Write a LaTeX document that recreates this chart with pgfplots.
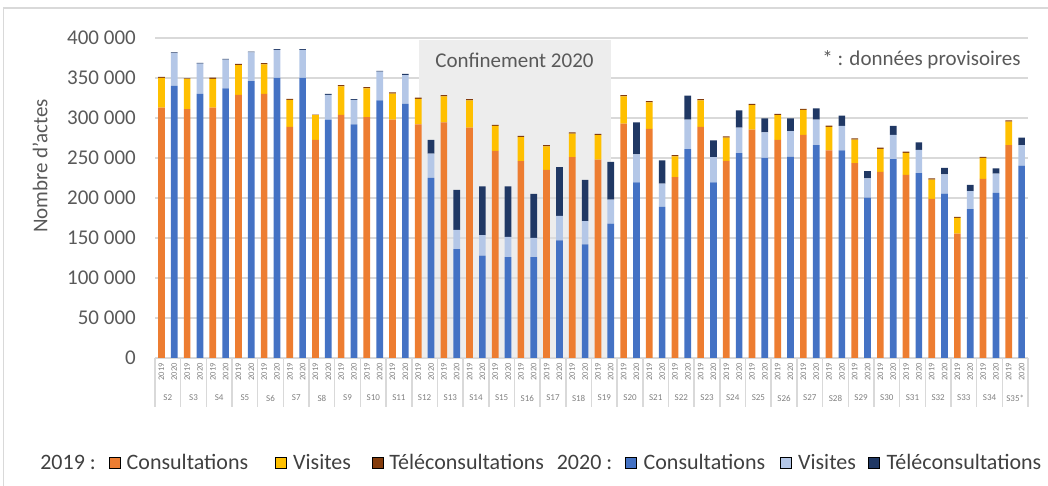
\documentclass[border=0pt]{standalone}
\usepackage{fontspec}
\setmainfont{Carlito}
\usepackage{pgfplots}
\usepackage{pgfplotstable}
\pgfplotsset{compat=1.18}

\definecolor{consA}{HTML}{ED7D31}
\definecolor{visA}{HTML}{FFC000}
\definecolor{teleA}{HTML}{843C0C}
\definecolor{consB}{HTML}{4472C4}
\definecolor{visB}{HTML}{B4C7E7}
\definecolor{teleB}{HTML}{203864}
\definecolor{gridc}{HTML}{D9D9D9}
\definecolor{txt}{HTML}{595959}
\definecolor{legtxt}{HTML}{404040}
\definecolor{smalltxt}{HTML}{808080}
\definecolor{confgray}{HTML}{EDEDED}
\definecolor{confgrayB}{HTML}{E1E1E1}

% actes par semaine : c = consultations, v = visites, t = teleconsultations
\pgfplotstableread{
i  c19    v19   t19  c20    v20   t20
0  313000 37000 1500 340000 41000 1000
1  311000 38000 500  330000 38000 1000
2  313000 36000 1500 337000 36000 1000
3  329000 37000 1500 346000 36000 1000
4  330000 37000 1500 350000 35000 1000
5  289000 33500 1500 350000 35000 1000
6  272500 31000 800  298000 31000 1000
7  304000 35500 1500 292000 30500 1000
8  301000 36000 1500 322000 36000 1000
9  298000 32500 1500 317500 36000 1500
10 292000 32000 1500 225000 30500 17000
11 294500 32500 1500 136000 24000 50000
12 288000 34000 1500 128000 25500 61000
13 259000 31000 1500 126000 25500 63000
14 246000 30000 1500 126000 24000 55000
15 235000 29500 1500 147000 30500 61000
16 251000 29500 1500 142000 29000 51500
17 248000 30500 1500 168000 30000 47000
18 293000 34000 1500 219500 35000 40000
19 286500 33000 1500 189000 29000 29000
20 226000 26000 1500 261000 37000 30000
21 289000 33000 1500 219500 31500 21000
22 246500 29000 1500 256000 32000 21500
23 285500 30500 1500 250000 32000 17500
24 272500 31000 1500 251500 32000 16000
25 279000 31000 1500 266000 32000 14000
26 259500 29500 1500 259500 30500 13000
27 243500 29500 1500 200500 24000 9000
28 232500 29000 1500 248500 30500 11000
29 229000 27500 1500 231000 29000 9500
30 199000 24000 1500 205500 24000 8000
31 155500 19500 1500 186000 22500 8000
32 224000 26000 1500 206500 24000 6500
33 266000 29500 1500 240500 25500 9500
}\actes

\pgfplotsset{
  base/.style={
    scale only axis, width=873pt, height=320pt,
    at={(155pt,128pt)}, anchor=south west,
    xmin=-0.5, xmax=33.5, ymin=0, ymax=400000,
    axis line style={draw=none},
    xtick pos=bottom, ytick pos=left,
    tick align=outside, major tick length=0pt,
  },
  bars/.style={base, ybar stacked, bar width=0.26, ytick=\empty,
    legend columns=-1,
    legend image code/.code={\fill[##1] (0pt,-5.5pt) rectangle (11pt,5.5pt);},
  },
  legbase/.style={draw=none, fill=none, anchor=west, inner sep=0pt,
    font=\fontsize{22}{25}\selectfont, text=legtxt,
    nodes={inner xsep=0pt, inner ysep=1pt},
  },
}

\begin{document}
\begin{tikzpicture}
\useasboundingbox (0,0) rectangle (1048pt,486pt);
\draw[gridc, line width=1.2pt] (3.5pt,-20pt) -- (3.5pt,478pt) -- (1100pt,478pt);

% fond : grille, axes, zone du confinement
\begin{axis}[base,
  ymajorgrids, major grid style={gridc, line width=1.3pt},
  ytick={0,50000,...,400000}, scaled y ticks=false,
  /pgf/number format/fixed, /pgf/number format/1000 sep={\ },
  /pgf/number format/assume math mode=true,
  yticklabel style={font=\fontsize{21}{24}\selectfont, text=txt, inner xsep=0pt, xshift=-19pt},
  ylabel={Nombre d’actes},
  ylabel style={at={(axis description cs:-0.1317,0.6)}, anchor=center,
    font=\fontsize{21}{24}\selectfont, text=txt},
  xtick={-0.25,0.25,...,33.25},
  xticklabels={2019,2020,2019,2020,2019,2020,2019,2020,2019,2020,2019,2020,2019,2020,2019,2020,
    2019,2020,2019,2020,2019,2020,2019,2020,2019,2020,2019,2020,2019,2020,2019,2020,
    2019,2020,2019,2020,2019,2020,2019,2020,2019,2020,2019,2020,2019,2020,2019,2020,
    2019,2020,2019,2020,2019,2020,2019,2020,2019,2020,2019,2020,2019,2020,2019,2020,
    2019,2020,2019,2020},
  xticklabel style={yshift=-5pt, rotate=90, anchor=east, inner sep=0pt,
    font=\fontsize{8.5}{9}\selectfont, text=smalltxt},
  extra x ticks={-0.5,0.5,...,33.5}, extra x tick labels={},
  extra x tick style={major tick length=49pt, tick align=outside,
    tick style={gridc, line width=1.5pt}},
]
\fill[confgray] (axis cs:9.77,247500) rectangle (axis cs:17.24,398000);
\fill[confgrayB, fill opacity=0.6] (axis cs:9.77,0) rectangle (axis cs:17.24,247500);
\node[font=\fontsize{21}{24}\selectfont, text=txt] at (axis cs:13.5,372500) {Confinement 2020};
\node[font=\fontsize{21}{24}\selectfont, text=txt, anchor=east] at (axis cs:33.35,372500) {* : données provisoires};
\end{axis}

% 2019
\begin{axis}[bars, xtick=\empty,
  legend style={legbase, at={(axis description cs:-0.139,-0.328)},
    /tikz/every odd column/.append style={column sep=6.5pt},
    /tikz/every even column/.append style={column sep=8pt}},
]
\addlegendimage{empty legend}\addlegendentry{2019 :\kern5pt}
\addlegendimage{fill=consA}\addlegendentry{Consultations\kern19pt}
\addlegendimage{fill=visA}\addlegendentry{Visites\kern12.5pt}
\addlegendimage{fill=teleA}\addlegendentry{Téléconsultations}

\addplot[fill=consA, draw=none] table[x expr=\thisrow{i}-0.25, y=c19] {\actes};
\addplot[fill=visA, draw=none] table[x expr=\thisrow{i}-0.25, y=v19] {\actes};
\addplot[fill=teleA, draw=none] table[x expr=\thisrow{i}-0.25, y=t19] {\actes};
\end{axis}

% 2020
\begin{axis}[bars,
  xtick={0,1,...,33},
  xticklabels={S2,S3,S4,S5,S6,S7,S8,S9,S10,S11,S12,S13,S14,S15,S16,S17,S18,S19,
    S20,S21,S22,S23,S24,S25,S26,S27,S28,S29,S30,S31,S32,S33,S34,S35*},
  xticklabel style={anchor=center, yshift=-40pt,
    font=\fontsize{9}{10}\selectfont, text=smalltxt},
  legend style={legbase, at={(axis description cs:0.452,-0.328)},
    /tikz/every odd column/.append style={column sep=7pt},
    /tikz/every even column/.append style={column sep=10pt}},
]
\addlegendimage{empty legend}\addlegendentry{2020 :\kern3pt}
\addlegendimage{fill=consB}\addlegendentry{Consultations\kern4.5pt}
\addlegendimage{fill=visB}\addlegendentry{Visites\kern2.3pt}
\addlegendimage{fill=teleB}\addlegendentry{Téléconsultations}

\addplot[fill=consB, draw=none] table[x expr=\thisrow{i}+0.25, y=c20] {\actes};
\addplot[fill=visB, draw=none] table[x expr=\thisrow{i}+0.25, y=v20] {\actes};
\addplot[fill=teleB, draw=none] table[x expr=\thisrow{i}+0.25, y=t20] {\actes};
\end{axis}
\end{tikzpicture}
\end{document}
